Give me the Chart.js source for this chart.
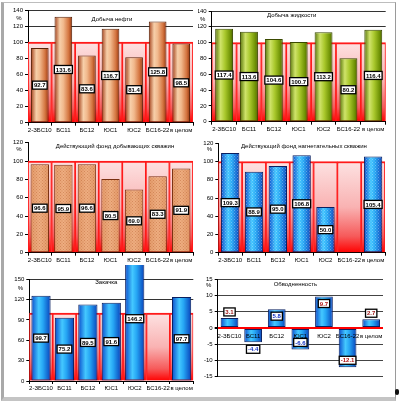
<!DOCTYPE html>
<html><head><meta charset="utf-8">
<script src="https://cdn.jsdelivr.net/npm/chart.js@4"></script>
<style>
html,body{margin:0;padding:0;background:#fff;width:399px;height:405px;overflow:hidden;}
#frame{position:absolute;left:1px;top:2px;width:391px;height:394px;border-top:1px solid #bdbdbd;border-right:1px solid #9a9a9a;border-left:3px solid #a9a9a9;border-bottom:4px solid #c4c4c4;}
#dot{position:absolute;left:395px;top:389px;width:4px;height:6px;background:#111;border-radius:2px;}
canvas{position:absolute;}
</style></head><body>
<div id="frame"></div><div id="dot"></div>
<canvas id="c1" width="198" height="135" style="left:0;top:0"></canvas>
<canvas id="c2" width="201" height="135" style="left:198px;top:0"></canvas>
<canvas id="c3" width="198" height="130" style="left:0;top:135px"></canvas>
<canvas id="c4" width="201" height="130" style="left:198px;top:135px"></canvas>
<canvas id="c5" width="198" height="135" style="left:0;top:265px"></canvas>
<canvas id="c6" width="201" height="135" style="left:198px;top:265px"></canvas>
<script>
// ---- data ----
const categories = ['2-ЗБС10','БС11','БС12','ЮС1','ЮС2','БС16-22','в целом'];
const oilValues = [92.7, 131.6, 83.6, 116.7, 81.4, 125.8, 98.5];
const liquidValues = [117.4, 113.6, 104.6, 100.7, 113.2, 80.2, 116.4];
const prodWellValues = [96.6, 95.9, 96.6, 80.5, 69.0, 83.3, 91.9];
const injWellValues = [109.3, 88.9, 95.0, 106.8, 50.0, null, 105.4];
const injectionBarValues = [125.8, 93.4, 113.0, 115.5, 183.0, null, 123.9];
const injectionLabelValues = [99.7, 75.2, 89.5, 91.6, 146.2, null, 97.7];
const waterCutValues = [3.1, -4.4, 5.8, -6.6, 9.7, -12.1, 2.7];
const planLevel = 100;
const ticks140 = [0, 20, 40, 60, 80, 100, 120, 140];
const ticks120 = [0, 20, 40, 60, 80, 100, 120];
const ticks150 = [0, 30, 60, 90, 120, 150];
const ticksWater = [-15, -10, -5, 0, 5, 10, 15];
const titles = ['Добыча нефти','Добыча жидкости','Действующий фонд добывающих скважин','Действующий фонд нагнетательных скважин','Закачка','Обводненность'];
const unitLabel = '%';

const FONT = '"Liberation Sans", Arial, sans-serif';
const COPPER = [[0,'#a3401a'],[0.3,'#f7cfa9'],[0.5,'#f1b98d'],[0.8,'#d47540'],[1,'#97360f']];
const GREEN = [[0,'#58760a'],[0.3,'#cfe36a'],[0.55,'#a9c82c'],[0.85,'#6f9205'],[1,'#4c6300']];
const BLUE = [[0,'#0a4ccc'],[0.38,'#44c8ff'],[0.6,'#26a6f4'],[1,'#0842bb']];
const TAN = [[0,'#e49a6a'],[0.5,'#efae82'],[1,'#e39868']];
const waterLabelColors = ['#9a1010','#1030c0','#1030c0','#1030c0','#b01010','#b01010','#9a1010'];

function barGradient(c, cfg) {
  const ch = c.chart;
  if (!ch.chartArea || !ch.scales.x) return cfg.stops[1][1];
  const xs = ch.scales.x;
  const cx = xs.getPixelForValue(c.dataIndex);
  const w = xs.width / categories.length * cfg.barPct;
  const g = ch.ctx.createLinearGradient(cx - w/2, 0, cx + w/2, 0);
  cfg.stops.forEach(s => g.addColorStop(s[0], s[1]));
  return g;
}
function pinkGradient(c) {
  const ch = c.chart;
  if (!ch.chartArea || !ch.scales.y) return '#f9b4b4';
  const y = ch.scales.y;
  const g = ch.ctx.createLinearGradient(0, y.getPixelForValue(planLevel), 0, y.getPixelForValue(0));
  g.addColorStop(0, '#fde2e2');
  g.addColorStop(0.5, '#f9b2b2');
  g.addColorStop(0.82, '#f65a5a');
  g.addColorStop(1, '#ff0000');
  return g;
}
function dotPattern(ctx, color) {
  const p = document.createElement('canvas'); p.width = 3; p.height = 3;
  const g = p.getContext('2d'); g.fillStyle = color;
  g.fillRect(0, 0, 1, 1); g.fillRect(1.5, 1.5, 1, 1);
  return ctx.createPattern(p, 'repeat');
}
function drawBox(ctx, text, cx, cy, color) {
  ctx.font = 'bold 6px ' + FONT;
  const w = ctx.measureText(text).width + 3, h = 8;
  ctx.fillStyle = '#fff'; ctx.fillRect(cx - w/2, cy - h/2, w, h);
  ctx.strokeStyle = '#000'; ctx.lineWidth = 1.3; ctx.strokeRect(cx - w/2, cy - h/2, w, h);
  ctx.fillStyle = color; ctx.textAlign = 'center'; ctx.textBaseline = 'middle';
  ctx.fillText(text, cx, cy + 0.5);
}

function makeChart(id, cfg) {
  const canvas = document.getElementById(id);
  const datasets = [{
    data: cfg.bars, order: 1, grouped: false,
    barPercentage: cfg.barPct, categoryPercentage: 1,
    backgroundColor: c => barGradient(c, cfg),
    borderColor: cfg.border, borderWidth: 1, borderSkipped: false, clip: false
  }];
  if (cfg.pink) datasets.push({
    data: categories.map(() => planLevel), order: 2, grouped: false,
    barPercentage: 1, categoryPercentage: 1,
    backgroundColor: pinkGradient, borderColor: '#ff1a1a',
    borderWidth: {top: 2, left: 1.2, right: 1.2, bottom: 0}, borderSkipped: 'start'
  });
  const plugin = {
    id: 'panel' + id,
    afterDatasetsDraw(ch) {
      const ctx = ch.ctx, meta = ch.getDatasetMeta(0);
      if (cfg.pattern) {
        const pat = dotPattern(ctx, cfg.pattern);
        meta.data.forEach((el, i) => {
          if (cfg.bars[i] == null) return;
          const x0 = el.x - el.width/2, y0 = Math.min(el.y, el.base), h = Math.abs(el.base - el.y);
          ctx.save(); ctx.fillStyle = pat; ctx.fillRect(x0 + 1, y0 + 1, el.width - 2, h - 2); ctx.restore();
        });
      }
      if (cfg.zeroLabels) {
        const z = ch.scales.y.getPixelForValue(0);
        ctx.save(); ctx.font = '6px ' + FONT; ctx.fillStyle = '#000';
        ctx.textAlign = 'center'; ctx.textBaseline = 'middle';
        categories.forEach((c, i) => ctx.fillText(c, ch.scales.x.getPixelForValue(i), z + 8));
        ctx.restore();
      }
      ctx.save();
      meta.data.forEach((el, i) => {
        const v = cfg.labels[i];
        if (v == null) return;
        let cy;
        if (cfg.zeroLabels) {
          if (v > 0) cy = Math.abs(v) < 5 ? el.y - 6 : el.y + 7;
          else cy = Math.abs(v) < 5 ? el.y + 7 : el.y - 7;
        } else cy = (el.y + el.base) / 2;
        drawBox(ctx, v.toFixed(1), el.x, cy, cfg.labelColors ? cfg.labelColors[i] : '#000');
      });
      ctx.restore();
    },
    afterDraw(ch) {
      const ctx = ch.ctx, a = ch.chartArea;
      ctx.save();
      ctx.font = '6px ' + FONT; ctx.fillStyle = '#000'; ctx.textAlign = 'center'; ctx.textBaseline = 'middle';
      ctx.fillText(cfg.title, (a.left + a.right)/2 + cfg.titleDx, a.top + cfg.titleDy);
      ctx.fillText(unitLabel, a.left - 9, a.top + cfg.unitDy);
      ctx.restore();
    }
  };
  new Chart(canvas, {
    type: 'bar',
    data: {labels: categories, datasets},
    plugins: [plugin],
    options: {
      responsive: false, animation: false, events: [],
      layout: {padding: {left: 0, right: cfg.padR, top: cfg.padT, bottom: cfg.padB || 0}},
      plugins: {legend: {display: false}, tooltip: {enabled: false}},
      scales: {
        x: {
          display: !cfg.zeroLabels, offset: true,
          grid: {display: true, drawOnChartArea: false, offset: true, tickLength: 3, tickColor: '#000', color: '#000'},
          border: {display: true, color: '#000', width: 1},
          ticks: {font: {size: 6, family: FONT}, color: '#000', padding: 1, maxRotation: 0, minRotation: 0, autoSkip: false},
          afterFit: s => { s.height = cfg.xH; }
        },
        y: {
          min: cfg.ticks[0], max: cfg.ticks[cfg.ticks.length - 1],
          afterBuildTicks: s => { s.ticks = cfg.ticks.map(v => ({value: v})); },
          grid: {
            color: c => cfg.gridColor(c.tick.value),
            lineWidth: c => (cfg.zeroLabels && c.tick.value === 0) ? 2 : 1,
            tickLength: 3, tickColor: '#000'
          },
          border: {display: true, color: '#000', width: 1},
          ticks: {font: {size: 6, family: FONT}, color: '#000', padding: 2, autoSkip: false},
          afterFit: s => { s.width = cfg.yW; }
        }
      }
    }
  });
}

const above100 = v => v > planLevel ? '#333' : 'rgba(0,0,0,0)';
makeChart('c1', {bars: oilValues, labels: oilValues, ticks: ticks140, pink: true, barPct: 0.75,
  stops: COPPER, border: '#5a2208', title: titles[0], titleDx: 1.5, titleDy: 9, unitDy: 8,
  yW: 28, padR: 5, padT: 10, xH: 12.3, gridColor: above100});
makeChart('c2', {bars: liquidValues, labels: liquidValues, ticks: ticks140, pink: true, barPct: 0.72,
  stops: GREEN, border: '#3a4a00', title: titles[1], titleDx: -7, titleDy: 4, unitDy: 8,
  yW: 13.7, padR: 13.3, padT: 11, xH: 13.3, gridColor: above100});
makeChart('c3', {bars: prodWellValues, labels: prodWellValues, ticks: ticks120, pink: true, barPct: 0.78,
  stops: TAN, border: '#7a3010', pattern: 'rgba(170,80,30,0.35)', title: titles[2], titleDx: 4.5, titleDy: 3.5, unitDy: 6.5,
  yW: 28, padR: 5, padT: 7.7, xH: 12.3, gridColor: () => 'rgba(0,0,0,0)'});
makeChart('c4', {bars: injWellValues, labels: injWellValues, ticks: ticks120, pink: true, barPct: 0.77,
  stops: BLUE, border: '#0a2060', pattern: 'rgba(255,255,255,0.3)', title: titles[3], titleDx: 2.3, titleDy: 3.5, unitDy: 6,
  yW: 20.3, padR: 14, padT: 8.3, xH: 12.3, gridColor: () => 'rgba(0,0,0,0)'});
makeChart('c5', {bars: injectionBarValues, labels: injectionLabelValues, ticks: ticks150, pink: true, barPct: 0.82,
  stops: BLUE, border: '#0a2060', title: titles[4], titleDx: -5, titleDy: 3, unitDy: 9.5,
  yW: 29.3, padR: 4.7, padT: 14.3, xH: 19, gridColor: above100});
makeChart('c6', {bars: waterCutValues, labels: waterCutValues, ticks: ticksWater, pink: false, barPct: 0.75,
  stops: BLUE, border: '#0a2060', title: titles[5], titleDx: -5, titleDy: 5, unitDy: 6.5, zeroLabels: true,
  labelColors: waterLabelColors,
  yW: 19.7, padR: 16, padT: 14.3, padB: 23.3, xH: 0, gridColor: v => v === 0 ? '#ff0000' : '#444'});
</script>
</body></html>
